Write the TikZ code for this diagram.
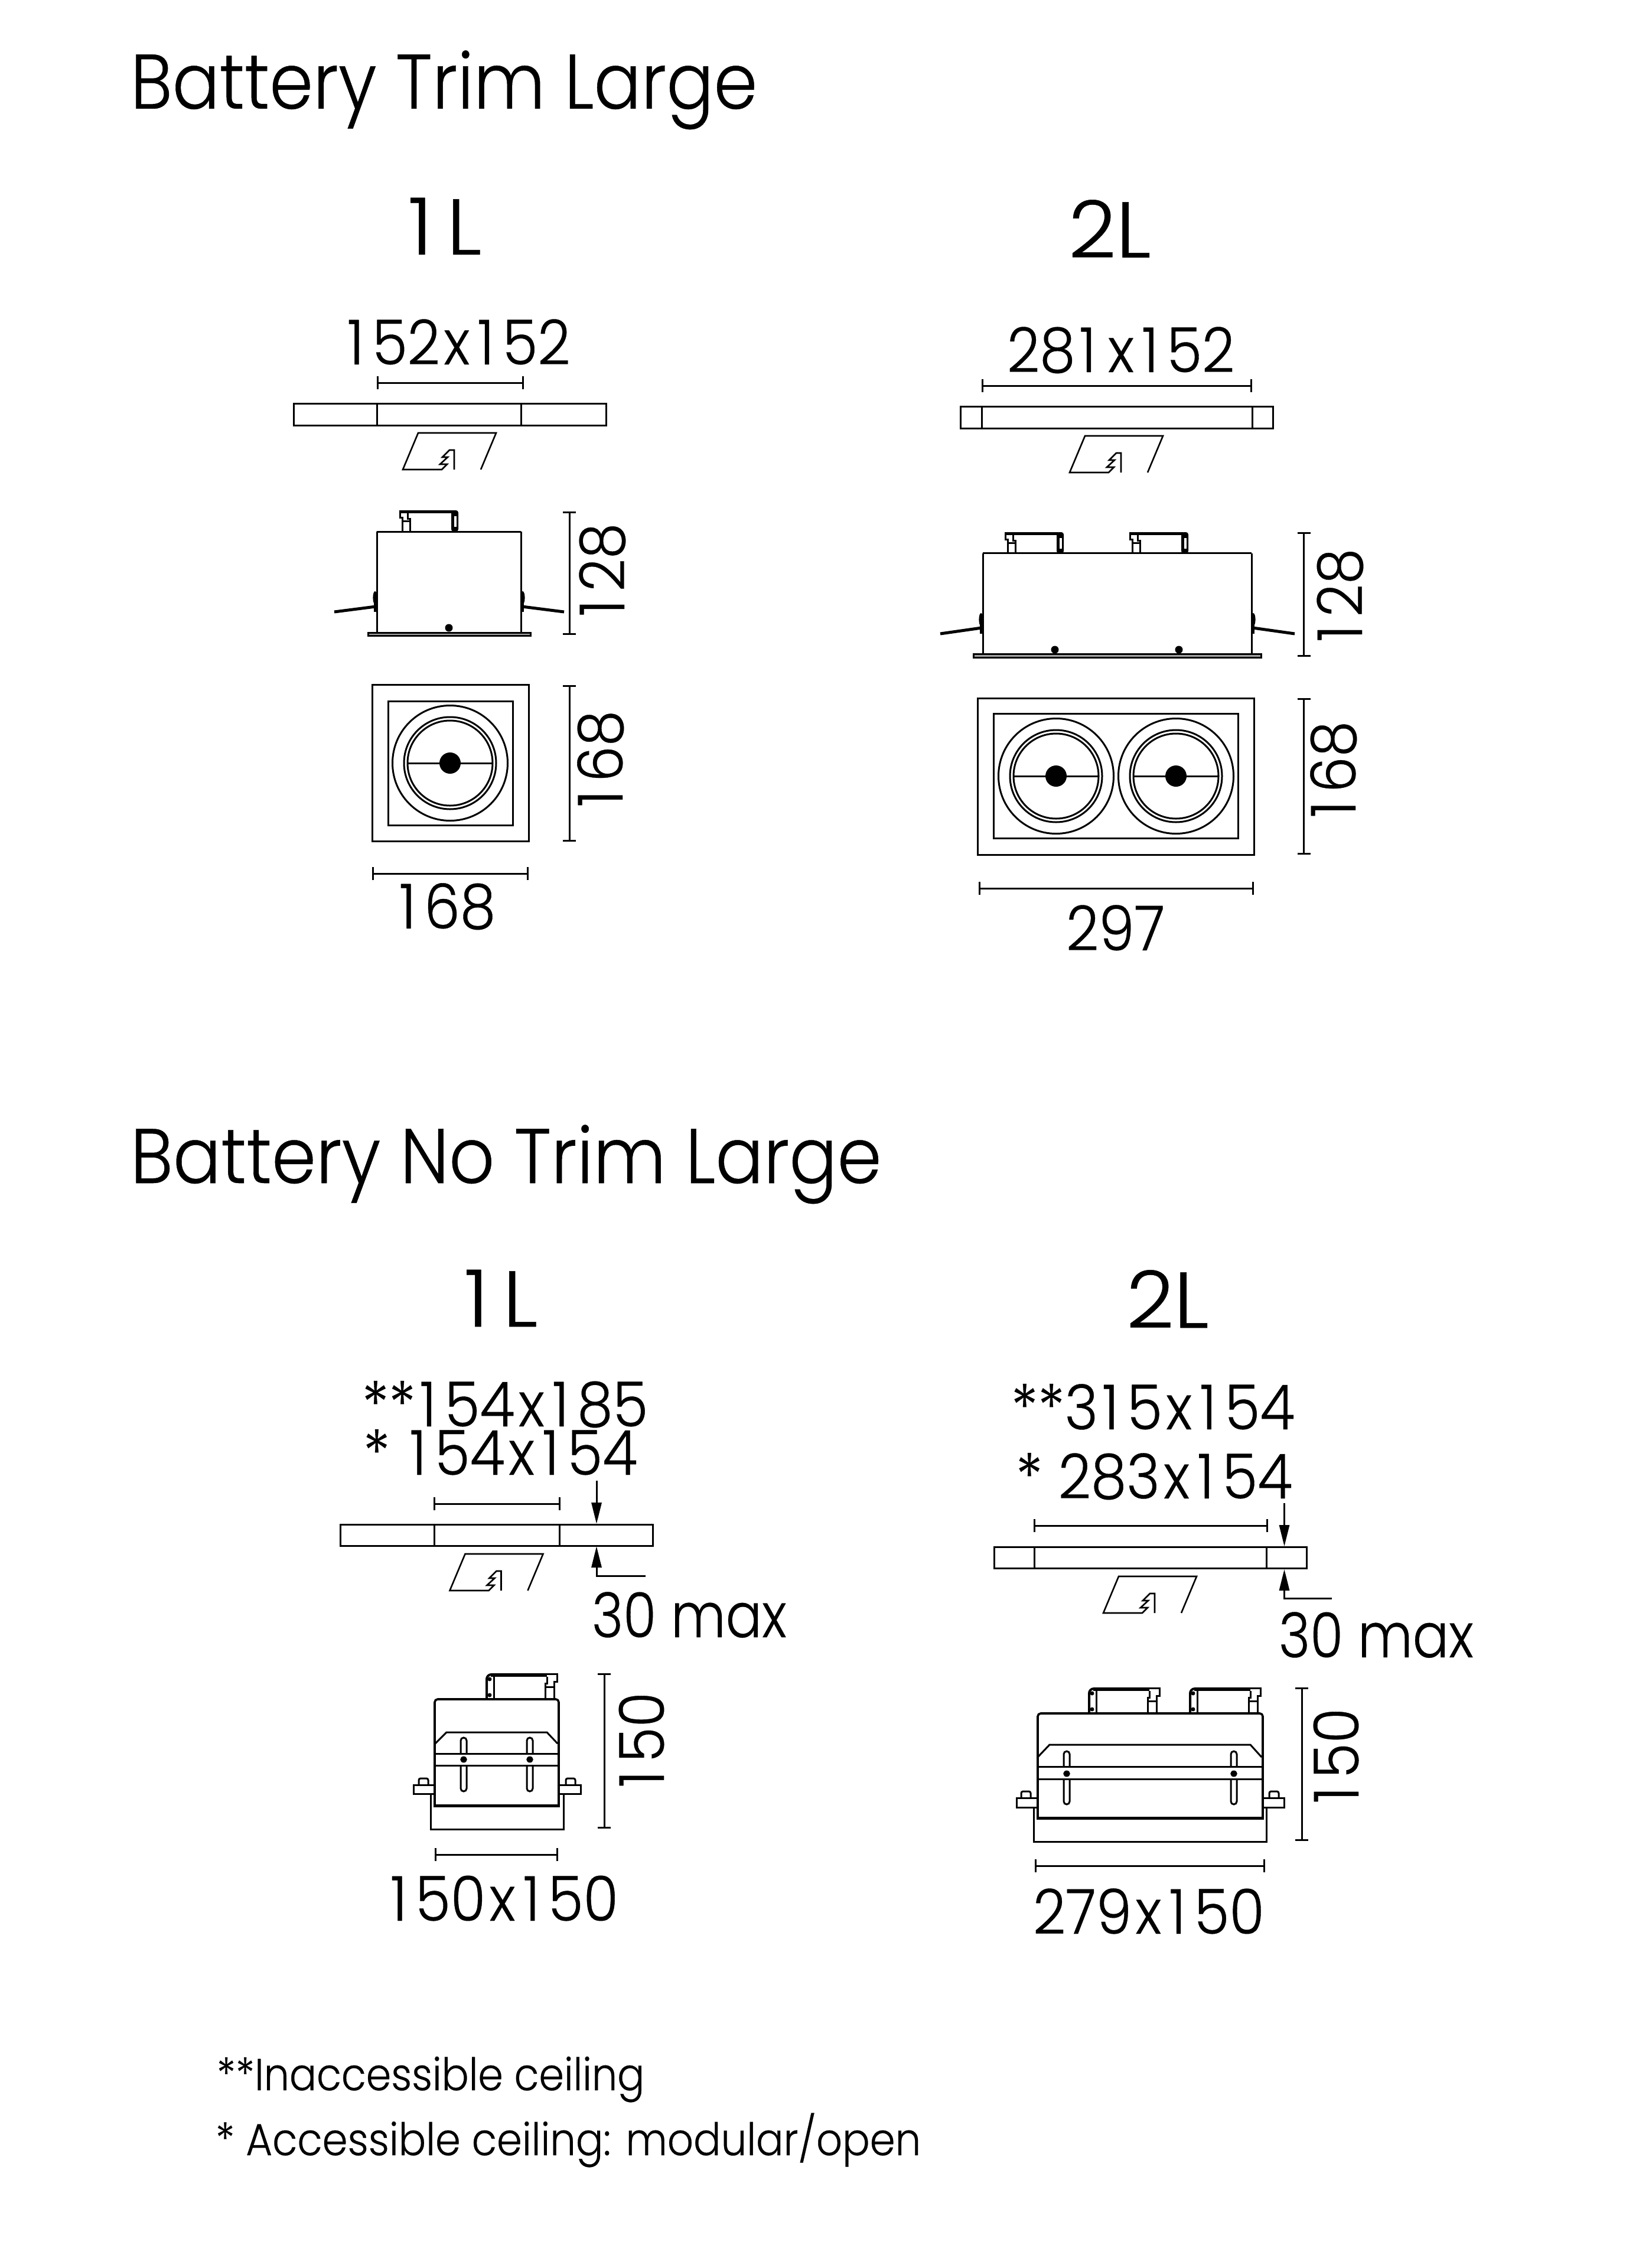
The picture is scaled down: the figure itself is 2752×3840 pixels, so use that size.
\documentclass[tikz,border=0pt]{standalone}
\usepackage{fontspec}
\setmainfont{Poppins}[UprightFont=* Light,FakeStretch=0.92,FakeBold=0.35]
\usetikzlibrary{arrows.meta}
\newcommand{\xone}{\kern7pt 1\kern14pt}
\newcommand{\xex}{\kern6pt x\kern6pt}
\newcommand{\xw}[2]{\scalebox{#1}[1]{#2}}
\tikzset{
  ln/.style={line width=3pt,line join=miter,black},
  thin ln/.style={line width=3pt,black},
  txt/.style={inner sep=0pt,outer sep=0pt,black},
  title/.style={txt,anchor=base west,font=\fontsize{131}{131}\selectfont},
  head/.style={txt,anchor=base west,font=\fontsize{134}{134}\selectfont},
  dimt/.style={txt,anchor=base west,font=\fontsize{105}{105}\selectfont},
  dimr/.style={txt,anchor=base,rotate=90,font=\fontsize{105}{105}\selectfont},
  note/.style={txt,anchor=base west,font=\fontsize{76}{76}\selectfont},
  arr/.style={line width=3pt,black,-{Triangle[length=36pt,width=17pt]}}
}
% horizontal dimension: x1 x2 y
\newcommand{\xhdim}[3]{\draw[ln] (#1,#3) -- (#2,#3) (#1,#3-11) -- (#1,#3+11) (#2,#3-11) -- (#2,#3+11);}
\newcommand{\xvdim}[3]{\draw[ln] (#1,#2) -- (#1,#3) (#1-11,#2) -- (#1+11,#2) (#1-11,#3) -- (#1+11,#3);}
% ceiling cut icon, origin at its top-left corner
\newcommand{\xcuticon}[2]{\begin{scope}[shift={(#1,#2)}]
  \draw[ln,line width=2.6pt] (61,62) -- (61,29) -- (53,29) -- (41,41) -- (50,41) -- (37,53) -- (49,53) -- (40,62) -- (-26,62) -- (0,0) -- (132,0) -- (106,62);
\end{scope}}
% bar: x1 x2 y1 y2 v1 v2
\newcommand{\xbar}[6]{\draw[ln] (#1,#3) rectangle (#2,#4) (#5,#3) -- (#5,#4) (#6,#3) -- (#6,#4);}
% fixing spring on top of the trim housing
\newcommand{\xtopclip}[2]{\begin{scope}[shift={(#1,#2)}]
  \fill[black,rounded corners=4pt] (87,0) -- (99,0) -- (99,36) -- (87,36) -- cycle;
  \fill[white] (92,10) rectangle (96,28);
  \fill[black] (0,0) rectangle (90,5);
  \draw[ln] (0,0) -- (0,12) -- (4,12) -- (4,36) (17,36) -- (17,14) -- (13,14) -- (13,4);
  \draw[ln] (4,18) -- (17,18);
\end{scope}}
% fixing spring on top of the no-trim housing
\newcommand{\xlowclip}[2]{\begin{scope}[shift={(#1,#2)}]
  \draw[ln,line width=4pt,rounded corners=8pt] (2,43) -- (2,2) -- (20,2);
  \fill[black] (9,0) rectangle (104,6);
  \draw[ln] (14,6) -- (14,43);
  \draw[ln] (104,1) -- (121,1) -- (121,14) -- (116,14) -- (116,43) (101,43) -- (101,17) -- (104,17) -- (104,6) (101,23) -- (116,23);
  \fill[black] (7,10) circle (3.5) (7,37) circle (3.5);
\end{scope}}
% side spring of the trim housing
\newcommand{\xwing}[5]{\draw[black,line width=5pt] (#1,#3) -- (#2,#4);
  \fill[black] (#5,#3-24) ellipse (3.6 and 11);
  \draw[black,line width=4.6pt] (#5,#3-28) -- (#5,#3);}
% circle set
\newcommand{\xlamp}[2]{\begin{scope}[shift={(#1,#2)}]
  \draw[thin ln] (0,0) circle (97.5) (0,0) circle (78) (0,0) circle (72);
  \draw[thin ln] (-72,0) -- (72,0);
  \fill[black] (0,0) circle (18);
\end{scope}}
% slot with fixing dot: x ytop yband1 yband2 ybot ydot
\newcommand{\xslot}[6]{\draw[thin ln,rounded corners=5pt] (#1-5,#3) -- (#1-5,#2) -- (#1+5,#2) -- (#1+5,#3);
  \draw[thin ln,rounded corners=5pt] (#1-5,#4) -- (#1-5,#5) -- (#1+5,#5) -- (#1+5,#4);
  \fill[black] (#1,#6) ellipse (5.8 and 5.4);}
\newcommand{\xscrew}[2]{\draw[ln,rounded corners=3pt] (#1,#2+11) -- (#1,#2) -- (#1+16,#2) -- (#1+16,#2+11);}
\begin{document}
\begin{tikzpicture}[x=1pt,y=-1pt]
\useasboundingbox (0,0) rectangle (2752,3840);
\fill[white] (0,0) rectangle (2752,3840);
% ---------- titles
\node[title] (t1) at (221,184) {\xw{0.984}{Battery Trim Large}};
\node[title] (t2) at (221,2003) {Battery No Trim Large};
\node[head] (h1) at (682,431) {\xw{1.14}{\kern8pt 1\kern21pt L}};
\node[head] (h2) at (1809,436) {\xw{1.14}{2L}};
\node[head] (h3) at (777,2246) {\xw{1.14}{\kern8pt 1\kern21pt L}};
\node[head] (h4) at (1907,2248) {\xw{1.14}{2L}};
% ---------- trim 1L
\node[dimt] (a1) at (581,617) {\xone 52\xex\xone 52};
\xhdim{639}{885}{648}
\xbar{497}{1026}{683}{720}{638}{882}
\xcuticon{708}{733}
\xtopclip{677}{864}
\draw[ln] (638,900) -- (882,900);
\draw[ln] (638,900) -- (638,1071) (882,900) -- (882,1071);
\draw[ln,fill=black!35] (623,1071) rectangle (898,1076.5);
\fill[black] (760,1063) circle (6.5);
\xwing{566}{636}{1036}{1027}{635}
\xwing{955}{884}{1036}{1027}{885}
\xvdim{964}{867}{1073}
\node[dimr] (a2) at (1057,968) {\xone 28};
\draw[ln] (630,1159) rectangle (895,1424);
\draw[ln] (657,1187) rectangle (868,1397);
\xlamp{762}{1292}
\xvdim{964}{1161}{1423}
\node[dimr] (a3) at (1054,1288) {\xone 68};
\xhdim{631}{893}{1479}
\node[dimt] (a4) at (669,1572) {\xone 68};
% ---------- trim 2L
\node[dimt] (b1) at (1705,630) {28\xone\xex\xone 52};
\xhdim{1663}{2118}{653}
\xbar{1626}{2155}{688}{725}{1662}{2120}
\xcuticon{1837}{738}
\xtopclip{1702}{901}
\xtopclip{1913}{901}
\draw[ln] (1664,936.5) -- (2119,936.5);
\draw[ln] (1664,936.5) -- (1664,1107) (2119,936.5) -- (2119,1107);
\draw[ln,fill=black!35] (1648,1107) rectangle (2135,1113);
\fill[black] (1786,1100) circle (6.5) (1996,1100) circle (6.5);
\xwing{1592}{1662}{1073}{1063}{1661}
\xwing{2192}{2121}{1073}{1063}{2122}
\xvdim{2207.5}{902}{1110}
\node[dimr] (b2) at (2306,1011) {\xone 28};
\draw[ln] (1655,1182) rectangle (2123,1447);
\draw[ln] (1682,1208) rectangle (2096,1419);
\xlamp{1788}{1314}
\xlamp{1991}{1314}
\xvdim{2207.5}{1183}{1445}
\node[dimr] (b3) at (2295,1306) {\xone 68};
\xhdim{1658}{2121}{1504}
\node[dimt] (b4) at (1805,1609) {297};
% ---------- no trim 1L
\node[dimt] (c1) at (613,2415) {**\xone 54\xex\xone 85};
\node[dimt] (c2) at (615,2497) {* \xone 54\xex\xone 54};
\xhdim{735}{947}{2546}
\xbar{576}{1105}{2581}{2617}{735}{947}
\xcuticon{787.5}{2631}
\coordinate (c3a) at (1010,2507);
\coordinate (c3b) at (1010,2580);
\draw[arr] (c3a) -- (c3b);
\coordinate (c3c) at (1093,2668);
\coordinate (c3d) at (1010,2668);
\coordinate (c3e) at (1010,2618);
\draw[arr] (c3c) -- (c3d) -- (c3e);
\node[dimt] (c4) at (1002,2772) {\xw{0.94}{30 max}};
\xlowclip{822}{2833}
\draw[ln,line width=3.6pt,rounded corners=5pt] (736,3057) -- (736,2877) -- (946,2877) -- (946,3057);
\draw[black,line width=5pt] (734,3057) -- (948,3057);
\draw[ln] (737,2952) -- (756,2933) -- (926,2933) -- (944,2952);
\draw[ln] (736,2969) -- (946,2969) (736,2989) -- (946,2989);
\xslot{785}{2942}{2969}{2989}{3033}{2979}
\xslot{897}{2942}{2969}{2989}{3033}{2979}
\draw[ln] (735,3022) -- (700,3022) -- (700,3037) -- (735,3037);
\draw[ln] (947,3022) -- (983,3022) -- (983,3037) -- (947,3037);
\xscrew{709}{3011}
\xscrew{958}{3011}
\draw[ln] (729,3037) -- (729,3097) -- (954,3097) -- (954,3037);
\xvdim{1023}{2834}{3094}
\node[dimr] (c5) at (1124,2949) {\xone 50};
\xhdim{737}{943}{3140}
\node[dimt] (c6) at (654,3252) {\xone 50\xex\xone 50};
% ---------- no trim 2L
\node[dimt] (d1) at (1712,2420) {**3\xone 5\xex\xone 54};
\node[dimt] (d2) at (1720,2537) {* 283\xex\xone 54};
\xhdim{1751}{2145}{2583}
\xbar{1683}{2212}{2619}{2655}{1751}{2144.5}
\xcuticon{1894}{2669}
\coordinate (d3a) at (2174.5,2545);
\coordinate (d3b) at (2174.5,2618);
\draw[arr] (d3a) -- (d3b);
\coordinate (d3c) at (2255,2706);
\coordinate (d3d) at (2174.5,2706);
\coordinate (d3e) at (2174.5,2657);
\draw[arr] (d3c) -- (d3d) -- (d3e);
\node[dimt] (d4) at (2165,2806) {\xw{0.94}{30 max}};
\xlowclip{1842}{2857}
\xlowclip{2013}{2857}
\draw[ln,line width=3.6pt,rounded corners=5pt] (1757,3078) -- (1757,2901) -- (2138,2901) -- (2138,3078);
\draw[black,line width=5pt] (1755,3078) -- (2140,3078);
\draw[ln] (1757,2975) -- (1777,2954) -- (2117,2954) -- (2136,2975);
\draw[ln] (1757,2991) -- (2138,2991) (1757,3012) -- (2138,3012);
\xslot{1806}{2965}{2991}{3012}{3055}{3003}
\xslot{2089}{2965}{2991}{3012}{3055}{3003}
\draw[ln] (1755,3044) -- (1721,3044) -- (1721,3060) -- (1755,3060);
\draw[ln] (2139,3044) -- (2174,3044) -- (2174,3060) -- (2139,3060);
\xscrew{1729}{3033}
\xscrew{2149}{3033}
\draw[ln] (1750,3060) -- (1750,3118) -- (2144,3118) -- (2144,3060);
\xvdim{2204}{2858}{3115}
\node[dimr] (d5) at (2300,2976) {\xone 50};
\xhdim{1753}{2140}{3159}
\node[dimt] (d6) at (1749,3274) {279\xex\xone 50};
% ---------- notes
\node[note] (n1) at (367,3539) {\xw{0.977}{**Inaccessible ceiling}};
\node[note] (n2) at (365,3649) {\xw{0.986}{* Accessible ceiling: modular/open}};
\end{tikzpicture}
\end{document}
